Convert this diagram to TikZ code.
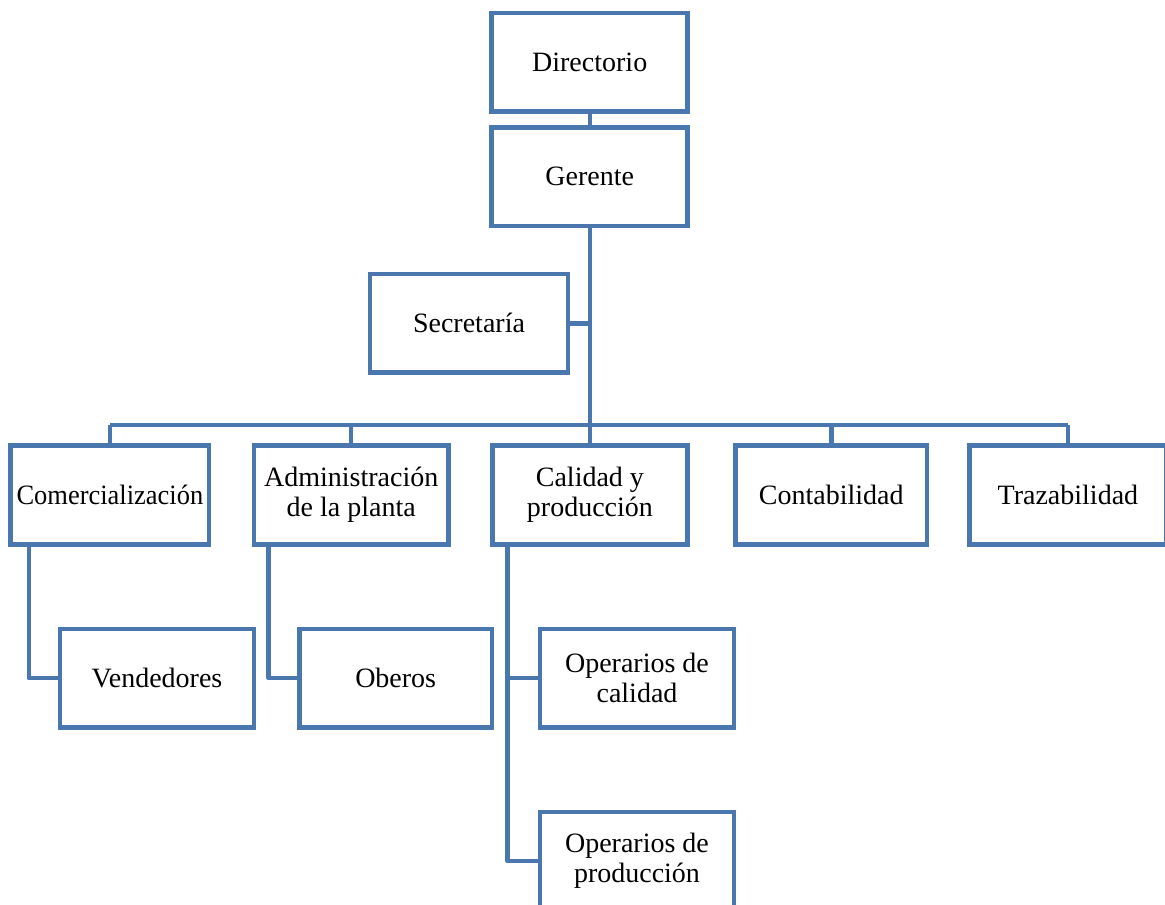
\documentclass[tikz,border=0pt]{standalone}
\usepackage{fontspec}
\setmainfont{Liberation Serif}
\definecolor{orgblue}{HTML}{4A77AD}
\begin{document}
\begin{tikzpicture}[x=1pt,y=-1pt,
  box/.style={draw=orgblue,line width=4.6pt,fill=white,inner sep=2pt,align=center,
    font=\rmfamily\fontsize{28}{30}\selectfont,text=black},
  link/.style={draw=orgblue,line width=4.4pt,line join=round}]
\useasboundingbox (0,0) rectangle (1165,905);
\begin{scope}
\clip (0,0) rectangle (1165,905);
\coordinate (busL) at (110,425);
\coordinate (busR) at (1068,425);

\node[box,minimum width=196pt,minimum height=98.7pt] (dir) at (589.7,62.3) {Directorio};
\node[box,minimum width=196pt,minimum height=98.7pt] (ger) at (589.7,176.7) {Gerente};
\node[box,minimum width=198pt,minimum height=98.7pt] (sec) at (469,323.3) {Secretaría};

\node[box,minimum width=198.3pt,minimum height=98.6pt] (com) at (109.9,495) {\scalebox{0.945}[1]{Comercialización}};
\node[box,minimum width=194.3pt,minimum height=98.6pt] (adm) at (351.2,495) {Administración\\de la planta};
\node[box,minimum width=195.3pt,minimum height=98.6pt] (cal) at (589.9,495) {Calidad y\\producción};
\node[box,minimum width=191.4pt,minimum height=98.6pt] (con) at (831.3,495) {Contabilidad};
\node[box,minimum width=197.2pt,minimum height=98.6pt] (tra) at (1067.9,495) {Trazabilidad};

\node[box,minimum width=194pt,minimum height=98.3pt] (ven) at (157,678.2) {Vendedores};
\node[box,minimum width=192.7pt,minimum height=98.3pt] (obe) at (395.7,678.2) {Oberos};
\node[box,minimum width=194pt,minimum height=98.3pt] (opc) at (637,678.2) {Operarios de\\calidad};
\node[box,minimum width=194pt,minimum height=98.3pt] (opp) at (637,861) {Operarios de\\producción};

\draw[link] (dir.south) -- (ger.north);
\draw[link] (ger.south) -- (ger.south |- busL);
\draw[link] (sec.east) -- (sec.east -| ger.south);
\draw[link] (busL) -- (busR);
\draw[link] (com.north) -- (com.north |- busL);
\draw[link] (adm.north) -- (adm.north |- busL);
\draw[link] (cal.north) -- (cal.north |- busL);
\draw[link] (con.north) -- (con.north |- busL);
\draw[link] (tra.north) -- (tra.north |- busL);
\draw[link] (com.south west) ++(20.3,0) |- (ven.west);
\draw[link] (adm.south west) ++(16.7,0) |- (obe.west);
\draw[link] (cal.south west) ++(17.5,0) |- (opc.west);
\draw[link] (cal.south west) ++(17.5,0) |- (opp.west);
\end{scope}
\end{tikzpicture}
\end{document}
